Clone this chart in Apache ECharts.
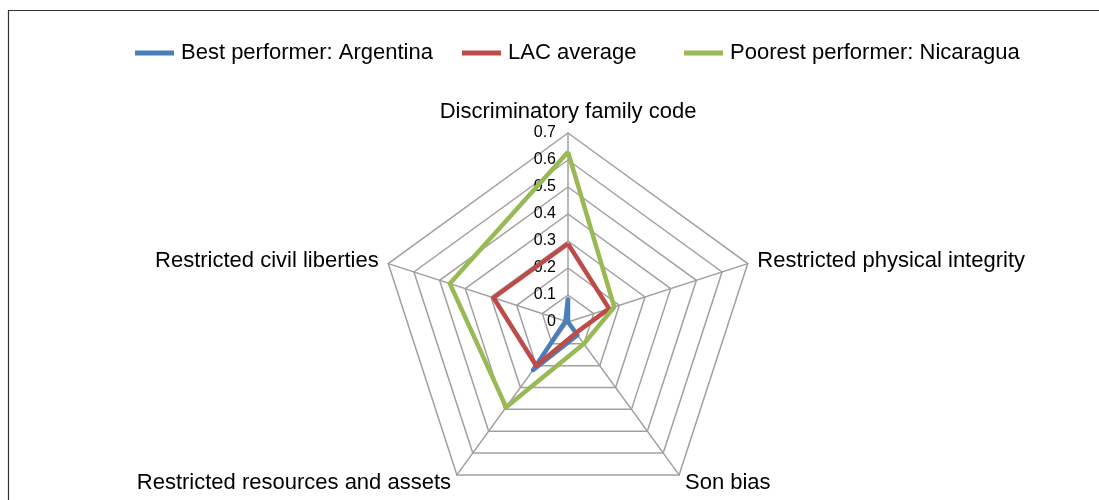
<!DOCTYPE html>
<html>
<head>
<meta charset="utf-8">
<script src="https://cdn.jsdelivr.net/npm/echarts@6/dist/echarts.min.js"></script>
<style>
  html, body { margin: 0; padding: 0; background: #fff; }
  #chart { width: 1099px; height: 500px; }
</style>
</head>
<body>
<div id="chart"></div>
<script>
// categories in the clockwise order they appear on the picture (starting at the top)
const categories = [
    'Discriminatory family code',
    'Restricted physical integrity',
    'Son bias',
    'Restricted resources and assets',
    'Restricted civil liberties'
];
const argentina = [0.09, 0.0, 0.06, 0.22, 0.01];
const lacAverage = [0.29, 0.16, 0.05, 0.20, 0.29];
const nicaragua = [0.63, 0.18, 0.10, 0.39, 0.46];
const seriesNames = ['Best performer: Argentina', 'LAC average', 'Poorest performer: Nicaragua'];
const axisMax = 0.7;

// echarts lays radar indicators out counter-clockwise, so walk the list backwards after the first one
const order = [0, 4, 3, 2, 1];
const pick = arr => order.map(i => arr[i]);

const chart = echarts.init(document.getElementById('chart'), null, { renderer: 'canvas' });

const font = 'Liberation Sans, Arial, Helvetica, sans-serif';
const colors = ['#4a7ebb', '#be4b48', '#98b954'];

// one legend per entry so each one sits where the original puts it
const legendLeft = [135, 462, 684];
const legends = seriesNames.map((name, i) => ({
    left: legendLeft[i],
    top: 42,
    padding: 0,
    icon: 'rect',
    itemWidth: 39,
    itemHeight: 5,
    textStyle: { fontSize: 22, color: '#000', fontFamily: font, padding: [0, 0, 0, 2] },
    data: [name]
}));

const option = {
    animation: false,
    color: colors,
    textStyle: { fontFamily: font },
    graphic: [
        {
            type: 'rect',
            shape: { x: 8.5, y: 10.5, width: 1200, height: 600 },
            style: { fill: 'none', stroke: '#333', lineWidth: 1.2 },
            silent: true
        }
    ],
    legend: legends,
    radar: {
        center: [568, 322],
        radius: 189,
        startAngle: 90,
        shape: 'polygon',
        splitNumber: 7,
        nameGap: 10,
        axisName: { color: '#000', fontSize: 22, fontFamily: font },
        axisLine: { lineStyle: { color: '#a0a0a0', width: 1.5 } },
        splitLine: { lineStyle: { color: '#a0a0a0', width: 1.5 } },
        splitArea: { show: false },
        axisTick: { show: false },
        axisLabel: { show: false },
        indicator: pick(categories).map((name, i) => ({
            name: name,
            min: 0,
            max: axisMax,
            // tick labels only on the top axis
            axisLabel: i === 0
                ? { show: true, color: '#000', fontSize: 16, fontFamily: font, margin: 12,
                    formatter: v => String(Math.round(v * 10) / 10) }
                : { show: false }
        }))
    },
    series: [{
        type: 'radar',
        symbol: 'none',
        lineStyle: { width: 4.5 },
        data: [
            { name: seriesNames[0], value: pick(argentina), lineStyle: { color: colors[0], width: 4.5 }, itemStyle: { color: colors[0] } },
            { name: seriesNames[1], value: pick(lacAverage), lineStyle: { color: colors[1], width: 4.5 }, itemStyle: { color: colors[1] } },
            { name: seriesNames[2], value: pick(nicaragua), lineStyle: { color: colors[2], width: 4.5 }, itemStyle: { color: colors[2] } }
        ]
    }]
};

chart.setOption(option);
</script>
</body>
</html>
